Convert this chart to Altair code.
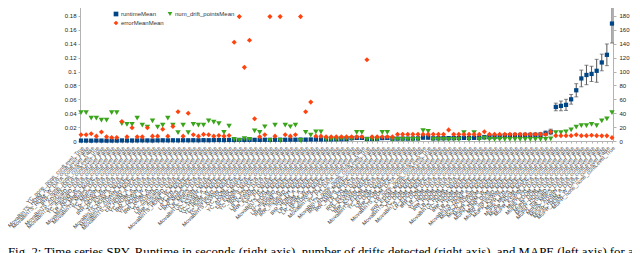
import altair as alt
import pandas as pd

labels = [
    "YC_none_none_confLevel_True", "MovaBinTS_HDIM_A_DATA_confLevel_False", "MovaBinTS_HDIM_W_DATA_confLevel_False",
    "IRR_none_none_confLevel_True", "MovaBinTS_ADWIN_DATA_confLevel_False", "MovaBinTS_mySeaID_DATA_confLevel_False",
    "YC_mySeaID_DATA_confLevel_False", "LR_HDIM_W_DATA_confLevel_False", "MovaBinTS_MNPS_MAPE_confLevel_False",
    "MovaBinTS_MNPS_DATA_confLevel_False", "YC_MNPS_DATA_confLevel_False", "LR_ADWIN_DATA_confLevel_False",
    "IRR_HDIM_W_DATA_confLevel_False", "YC_KSWIN_DATA_confLevel_False", "MovaBinTS_HDIM_A_MAPE_confLevel_False",
    "MovaBinTS_ADWIN_MAPE_confLevel_False", "MovaBinTS_mySeaID_MAPE_confLevel_False", "LR_HDIM_A_DATA_confLevel_False",
    "YC_HDIM_A_DATA_confLevel_False", "IRR_ADWIN_DATA_confLevel_False", "YC_HDIM_W_DATA_confLevel_False",
    "IRR_HDIM_A_DATA_confLevel_False", "YC_ADWIN_DATA_confLevel_False", "LR_mySeaID_DATA_confLevel_False",
    "IRR_mySeaID_DATA_confLevel_False", "MovaBinTS_HDIM_W_MAPE_confLevel_False", "LR_PH_MAPE_confLevel_False",
    "LR_MNPS_MAPE_confLevel_False", "IRR_MNPS_DATA_confLevel_False", "LR_MNPS_DATA_confLevel_False",
    "MovaBinTS_KSWIN_DATA_confLevel_False", "YC_KSWIN_MAPE_confLevel_False", "YC_HDIM_A_MAPE_confLevel_False",
    "YC_HDIM_W_MAPE_confLevel_False", "YC_mySeaID_MAPE_confLevel_False", "MovaBinTS_KSWIN_MAPE_confLevel_False",
    "YC_DDM_DATA_confLevel_False", "YC_ADWIN_MAPE_confLevel_False", "LR_EDDM_DATA_confLevel_False",
    "YC_MNPS_MAPE_confLevel_False", "IRR_PH_DATA_confLevel_False", "LR_KSWIN_DATA_confLevel_False",
    "IRR_KSWIN_DATA_confLevel_False", "YC_PH_MAPE_confLevel_False", "MovaBinTS_PH_MAPE_confLevel_False",
    "YC_EDDM_MAPE_confLevel_False", "LR_mySeaID_MAPE_confLevel_False", "IRR_HDIM_W_MAPE_confLevel_False",
    "IRR_mySeaID_MAPE_confLevel_False", "IRR_PH_MAPE_confLevel_False", "IRR_HDIM_A_MAPE_confLevel_False",
    "LR_HDIM_A_MAPE_confLevel_False", "LR_HDIM_W_MAPE_confLevel_False", "LR_ADWIN_MAPE_confLevel_False",
    "MovaBinTS_PH_DATA_confLevel_False", "YC_PH_DATA_confLevel_False", "MovaBinTS_none_none_confLevel_True",
    "IRR_ADWIN_MAPE_confLevel_False", "IRR_MNPS_MAPE_confLevel_False", "LR_PH_DATA_confLevel_False",
    "IRR_EDDM_DATA_confLevel_False", "LR_KSWIN_MAPE_confLevel_False", "IRR_KSWIN_MAPE_confLevel_False",
    "MovaBinTS_EDDM_DATA_confLevel_False", "YC_EDDM_DATA_confLevel_False", "LR_DDM_MAPE_confLevel_False",
    "IRR_DDM_MAPE_confLevel_False", "MovaBinTS_DDM_DATA_confLevel_False", "LR_none_none_confLevel_True",
    "IRR_EDDM_MAPE_confLevel_False", "MovaBinTS_EDDM_MAPE_confLevel_False", "YC_DDM_MAPE_confLevel_False",
    "MovaBinTS_DDM_MAPE_confLevel_False", "LR_EDDM_MAPE_confLevel_False", "IRR_DDM_DATA_confLevel_False",
    "LR_DDM_DATA_confLevel_False", "YC_HDDM_DATA_confLevel_False", "IRR_HDDM_DATA_confLevel_False",
    "LR_HDDM_DATA_confLevel_False", "MovaBinTS_HDDM_DATA_confLevel_False", "YC_HDDM_MAPE_confLevel_False",
    "IRR_HDDM_MAPE_confLevel_False", "LR_HDDM_MAPE_confLevel_False", "MovaBinTS_HDDM_MAPE_confLevel_False",
    "MuPR_HDIM_A_MAPE_confLevel_False", "MuPR_ADWIN_MAPE_confLevel_False", "MuPR_EDDM_MAPE_confLevel_False",
    "MuPR_HDIM_W_MAPE_confLevel_False", "MuPR_DDM_MAPE_confLevel_False", "MuPR_mySeaID_MAPE_confLevel_False",
    "MuPR_KSWIN_MAPE_confLevel_False", "MuPR_PH_MAPE_confLevel_False", "MuPR_MNPS_MAPE_confLevel_False",
    "MuPR_HDDM_MAPE_confLevel_False", "MuPR_KSWIN_DATA_confLevel_False", "MuPR_PH_DATA_confLevel_False",
    "MuPR_EDDM_DATA_confLevel_False", "MuPR_DDM_DATA_confLevel_False", "MuPR_HDDM_DATA_confLevel_False",
    "MuPR_mySeaID_DATA_confLevel_False", "MuPR_MNPS_DATA_confLevel_False", "MuPR_ADWIN_DATA_confLevel_False",
    "MuPR_HDIM_A_DATA_confLevel_False", "MuPR_HDIM_W_DATA_confLevel_False", "MuPR_none_none_confLevel_True",
]

# runtime in seconds (right axis)
runtime_mean = [
    0.6, 0.6, 0.5, 0.7, 0.6, 0.5, 0.6, 0.6, 0.8, 0.7, 0.7, 0.8, 0.9, 0.8, 0.7, 0.9, 1.0, 0.9, 1.0, 0.9, 1.1, 1.0, 1.1, 1.0, 1.2, 1.1,
    1.3, 1.4, 1.3, 1.5, 1.4, 1.6, 1.5, 1.6, 1.7, 1.6, 1.8, 1.7, 1.8, 1.9, 1.8, 2.0, 1.9, 2.1, 2.0, 2.2, 2.3, 2.2, 2.4, 2.3, 2.5, 2.6, 2.7,
    4.0, 4.5, 4.5, 3.0, 3.0, 3.2, 4.2, 4.4, 3.3, 3.4, 3.5, 3.4, 3.6, 3.7, 5.0, 5.0, 3.8, 3.9, 4.0, 4.1, 4.2, 4.3, 4.5, 4.4, 4.6, 4.8,
    5.5, 5.8, 6.0, 6.2, 7.5, 7.8, 8.0, 8.0, 8.2, 8.3, 8.5, 8.8,
    11, 13,
    49, 50.5, 52, 60, 73, 90, 95, 96.5, 101, 113, 124, 169,
]
runtime_err = [
    0.4, 0.4, 0.4, 0.5, 0.4, 0.4, 0.4, 0.4, 0.5, 0.5, 0.5, 0.5, 0.6, 0.5, 0.5, 0.6, 0.6, 0.6, 0.6, 0.6, 0.7, 0.6, 0.7, 0.6, 0.7, 0.7,
    0.8, 0.8, 0.8, 0.9, 0.8, 0.9, 0.9, 0.9, 1.0, 0.9, 1.0, 1.0, 1.0, 1.1, 1.0, 1.1, 1.1, 1.2, 1.1, 1.2, 1.3, 1.2, 1.3, 1.3, 1.4, 1.4, 1.5,
    2.0, 2.2, 2.2, 1.6, 1.6, 1.7, 2.1, 2.2, 1.7, 1.8, 1.8, 1.8, 1.9, 1.9, 2.5, 2.5, 2.0, 2.0, 2.1, 2.1, 2.2, 2.2, 2.3, 2.2, 2.3, 2.4,
    2.6, 2.7, 2.8, 2.9, 3.0, 3.1, 3.2, 3.2, 3.3, 3.3, 3.4, 3.5,
    3.5, 4.0,
    5.5, 7, 8, 7, 9.5, 12, 14, 11, 16.5, 12, 15.6, 28,
]
# number of drift points (right axis)
drift_points = [
    41, 41, 33, 33, 30, 30, 41, 41, 25, 24, 24, 33, 23, 20, 29, 20, 23, 33, 23, 12, 23, 12, 24, 23, 23, 29,
    27, 25, 12.5, 21.5, 2.5, 1, 3.5, 2.5, 14.5, 12.5, 20.5, 1, 23, 1, 23, 20.5, 23, 1, 12.5, 8.5, 13, 13, 2.5, 2.5, 2.5, 3, 3,
    3, 12.5, 12.5, 2.5, 2.5, 2.5, 12.5, 12.5, 2.5, 2.5, 2.5, 2.5, 2.5, 2.5, 15, 14, 2.5, 2.5, 2.5, 2.5, 2.5, 2.5, 12, 2.5, 12, 2.5,
    4, 2.5, 2.5, 2.5, 2.5, 2.5, 2.5, 2.5, 2.5, 2.5, 2.5, 2.5,
    2.5, 3,
    12, 12, 13, 16, 20, 22, 22, 24, 22, 29, 32, 41,
]
# MAPE (left axis)
error_mean = [
    0.009, 0.009, 0.0105, 0.007, 0.013, 0.006, 0.005, 0.005, 0.028, 0.006, 0.019, 0.006, 0.006, 0.019, 0.007, 0.007, 0.017, 0.007, 0.021, 0.042, 0.007, 0.040, 0.009, 0.007, 0.0095, 0.009,
    0.007, 0.008, 0.007, 0.008, 0.142, 0.179, 0.106, 0.145, 0.032, 0.006, 0.009, 0.179, 0.007, 0.179, 0.009, 0.007, 0.009, 0.179, 0.042, 0.056, 0.007, 0.007, 0.006, 0.006, 0.006, 0.006, 0.006,
    0.006, 0.006, 0.006, 0.117, 0.006, 0.006, 0.006, 0.006, 0.006, 0.0096, 0.0096, 0.0096, 0.0096, 0.0096, 0.0096, 0.0096, 0.0096, 0.0096, 0.0096, 0.016, 0.0096, 0.0096, 0.0096, 0.0096, 0.0096, 0.0096,
    0.0134, 0.0096, 0.0096, 0.0096, 0.0096, 0.0096, 0.0096, 0.0096, 0.0096, 0.0096, 0.0096, 0.0096,
    0.0096, 0.0134,
    0.0077, 0.0077, 0.0077, 0.0077, 0.009, 0.0077, 0.0077, 0.0083, 0.0077, 0.0074, 0.0074, 0.0048,
]

series_names = ["runtimeMean", "num_drift_pointsMean", "errorMeanMean"]
series_colors = ["#004586", "#3aa51b", "#ff420e"]
series_shapes = ["square", "triangle-down", "diamond"]
left_ticks = [0, 0.02, 0.04, 0.06, 0.08, 0.1, 0.12, 0.14, 0.16, 0.18, 0.2]
right_ticks = [0, 20, 40, 60, 80, 100, 120, 140, 160, 180, 200]
caption = ("Fig. 2: Time series SPY. Runtime in seconds (right axis), number of drifts detected "
           "(right axis), and MAPE (left axis) for all")

n = len(labels)
df_right = pd.DataFrame({
    "cat": labels * 2,
    "value": runtime_mean + drift_points,
    "series": ["runtimeMean"] * n + ["num_drift_pointsMean"] * n,
})
df_err = pd.DataFrame({
    "cat": labels,
    "lo": [m - e for m, e in zip(runtime_mean, runtime_err)],
    "hi": [m + e for m, e in zip(runtime_mean, runtime_err)],
})
df_left = pd.DataFrame({"cat": labels, "value": error_mean, "series": ["errorMeanMean"] * n})

FONT = "Liberation Sans"
x_enc = alt.X(
    "cat:N", sort=labels, title=None,
    scale=alt.Scale(type="point", padding=0.2, domain=labels),
    axis=alt.Axis(labelAngle=-45, labelFontSize=5.5, labelFont=FONT, labelOverlap=False,
                  labelColor="#444", tickSize=2, tickColor="#b3b3b3", domainColor="#b3b3b3",
                  labelPadding=2, grid=False),
)
color_enc = alt.Color("series:N", title=None,
                      scale=alt.Scale(domain=series_names, range=series_colors),
                      legend=alt.Legend(orient="none", legendX=33, legendY=9, columns=2,
                                        direction="horizontal",
                                        labelFontSize=6, labelFont=FONT, labelColor="#333",
                                        symbolSize=22, columnPadding=3, rowPadding=3,
                                        symbolStrokeWidth=0, labelOffset=2))
shape_enc = alt.Shape("series:N", title=None,
                      scale=alt.Scale(domain=series_names, range=series_shapes))

y_right = alt.Scale(domain=[0, 200], nice=False)
right_axis = alt.Axis(orient="right", values=right_ticks, labelFontSize=6, labelFont=FONT,
                      labelColor="#222", tickSize=3, tickColor="#b3b3b3", domainColor="#b3b3b3",
                      labelPadding=3, grid=False, title=None)

err_rule = alt.Chart(df_err).mark_rule(color="#555", strokeWidth=1).encode(
    x=x_enc,
    y=alt.Y("lo:Q", scale=y_right, axis=right_axis),
    y2="hi:Q",
)
cap_lo = alt.Chart(df_err).mark_tick(color="#555", thickness=1, size=4).encode(
    x=x_enc, y=alt.Y("lo:Q", scale=y_right, axis=right_axis))
cap_hi = alt.Chart(df_err).mark_tick(color="#555", thickness=1, size=4).encode(
    x=x_enc, y=alt.Y("hi:Q", scale=y_right, axis=right_axis))

right_pts = alt.Chart(df_right).mark_point(filled=True, opacity=1).encode(
    x=x_enc,
    y=alt.Y("value:Q", scale=y_right, axis=right_axis),
    color=color_enc,
    shape=shape_enc,
    size=alt.condition("datum.series == 'runtimeMean'", alt.value(18), alt.value(30)),
)
right_layer = alt.layer(err_rule, cap_lo, cap_hi, right_pts)

left_pts = alt.Chart(df_left).mark_point(filled=True, opacity=1, size=26).encode(
    x=x_enc,
    y=alt.Y("value:Q", scale=alt.Scale(domain=[0, 0.2], nice=False),
            axis=alt.Axis(orient="left", values=left_ticks, format="~g", labelFontSize=6,
                          labelFont=FONT, labelColor="#222", tickSize=2, tickColor="#b3b3b3",
                          domainColor="#b3b3b3", labelPadding=2, grid=False, title=None)),
    color=color_enc,
    shape=shape_enc,
)

chart = alt.layer(right_layer, left_pts).resolve_scale(y="independent").properties(
    width=533,
    height=139,
    autosize=alt.AutoSizeParams(type="none"),
    padding={"left": 72, "top": -6, "right": 19, "bottom": 125},
    title=alt.TitleParams(caption, orient="bottom", anchor="start", frame="group",
                          font="Liberation Serif", fontSize=12.8, fontWeight="normal",
                          color="#000", dx=-72, offset=15),
).configure_view(stroke="#c8c8c8").configure(background="white")

chart.save("out.html", embed_options={"renderer": "svg", "actions": False})
